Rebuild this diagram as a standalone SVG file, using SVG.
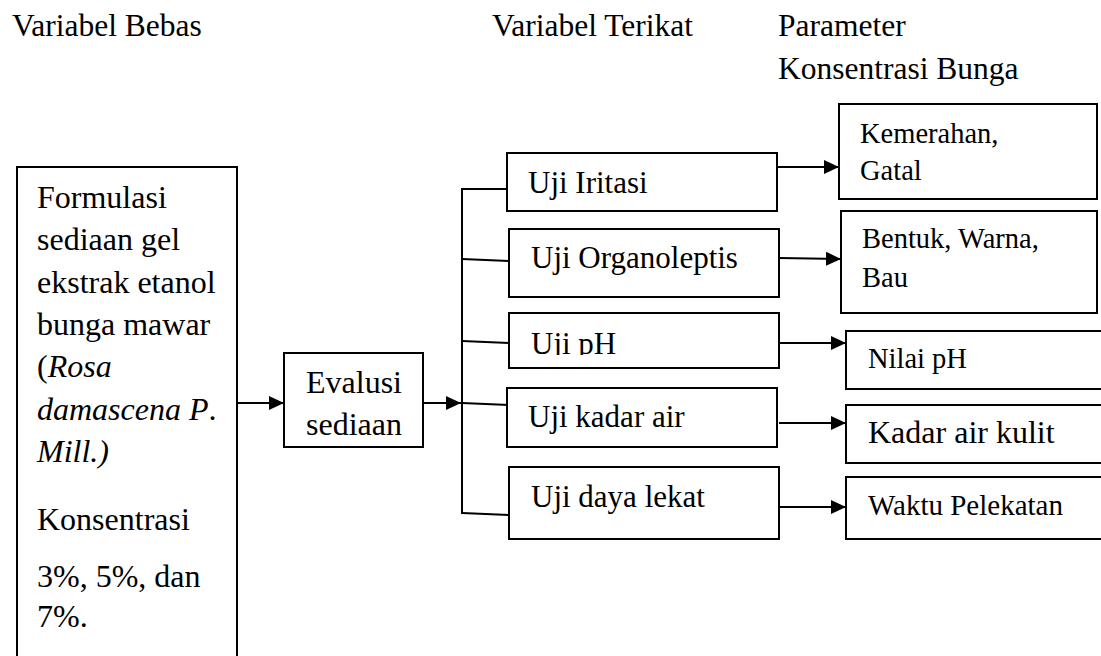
<svg xmlns="http://www.w3.org/2000/svg" width="1101" height="656" viewBox="0 0 1101 656">
<style>
text{font-family:"Liberation Serif","Times New Roman",serif;fill:#000}
.h{font-size:31.5px}
.m{font-size:32px}
.u{font-size:31px}
.s{font-size:28.5px}
.box{fill:#fff;stroke:#000;stroke-width:2}
.c{fill:none;stroke:#000;stroke-width:2}
</style>
<defs>
<marker id="ah" markerUnits="userSpaceOnUse" markerWidth="16" markerHeight="16" refX="15" refY="8" orient="auto">
<path d="M0,1 L15,8 L0,15 Z" fill="#000"/>
</marker>
<clipPath id="phclip"><rect x="509" y="313" width="270" height="42"/></clipPath>
</defs>
<rect width="1101" height="656" fill="#fff"/>
<g id="headers">
<text class="h" x="12" y="36">Variabel Bebas</text>
<text class="h" x="492" y="36">Variabel Terikat</text>
<text class="h" x="778" y="36">Parameter</text>
<text class="h" x="778" y="79">Konsentrasi Bunga</text>
</g>
<g id="connectors">
<line class="c" x1="237" y1="403" x2="284" y2="403" marker-end="url(#ah)"/>
<line class="c" x1="423" y1="403" x2="461" y2="403" marker-end="url(#ah)"/>
<line class="c" x1="462" y1="188" x2="462" y2="514"/>
<line class="c" x1="461" y1="189" x2="507" y2="189"/>
<line class="c" x1="462" y1="259" x2="509" y2="261"/>
<line class="c" x1="462" y1="341" x2="509" y2="343"/>
<line class="c" x1="462" y1="403" x2="509" y2="405"/>
<line class="c" x1="462" y1="513" x2="509" y2="515"/>
<line class="c" x1="777" y1="167" x2="839" y2="167" marker-end="url(#ah)"/>
<line class="c" x1="779" y1="258" x2="841" y2="259" marker-end="url(#ah)"/>
<line class="c" x1="779" y1="343" x2="846" y2="343" marker-end="url(#ah)"/>
<line class="c" x1="779" y1="423" x2="846" y2="423" marker-end="url(#ah)"/>
<line class="c" x1="779" y1="507" x2="846" y2="507" marker-end="url(#ah)"/>
</g>
<g id="formulasi">
<rect class="box" x="17" y="167" width="220" height="500"/>
<text class="m" x="37" y="208">Formulasi</text>
<text class="m" x="37" y="250">sediaan gel</text>
<text class="m" x="37" y="293">ekstrak etanol</text>
<text class="m" x="37" y="335">bunga mawar</text>
<text class="m" x="37" y="377">(<tspan font-style="italic">Rosa</tspan></text>
<text class="m" x="37" y="420" font-style="italic">damascena P<tspan font-style="normal">.</tspan></text>
<text class="m" x="37" y="462" font-style="italic">Mill.)</text>
<text class="m" x="37" y="530">Konsentrasi</text>
<text class="m" x="37" y="587">3%, 5%, dan</text>
<text class="m" x="37" y="627">7%.</text>
</g>
<g id="evalusi">
<rect class="box" x="284" y="353" width="139" height="94"/>
<text class="m" x="354" y="393" text-anchor="middle">Evalusi</text>
<text class="m" x="354" y="435" text-anchor="middle">sediaan</text>
</g>
<g id="uji-iritasi">
<rect class="box" x="507" y="153" width="270" height="58"/>
<text class="u" x="528" y="193">Uji Iritasi</text>
</g>
<g id="uji-organoleptis">
<rect class="box" x="509" y="229" width="270" height="68"/>
<text class="u" x="531" y="268">Uji Organoleptis</text>
</g>
<g id="uji-ph">
<rect class="box" x="509" y="313" width="270" height="55"/>
<text class="u" x="531" y="354" clip-path="url(#phclip)">Uji pH</text>
</g>
<g id="uji-kadar-air">
<rect class="box" x="507" y="388" width="270" height="59"/>
<text class="u" x="528" y="427">Uji kadar air</text>
</g>
<g id="uji-daya-lekat">
<rect class="box" x="509" y="467" width="270" height="72"/>
<text class="u" x="531" y="507">Uji daya lekat</text>
</g>
<g id="kemerahan">
<rect class="box" x="839" y="104" width="258" height="95"/>
<text class="s" x="860" y="143">Kemerahan,</text>
<text class="s" x="860" y="180">Gatal</text>
</g>
<g id="bentuk">
<rect class="box" x="841" y="211" width="256" height="102"/>
<text class="s" x="862" y="248">Bentuk, Warna,</text>
<text class="s" x="862" y="287">Bau</text>
</g>
<g id="nilai-ph">
<rect class="box" x="846" y="331" width="265" height="58"/>
<text class="s" x="868" y="368">Nilai pH</text>
</g>
<g id="kadar-air-kulit">
<rect class="box" x="846" y="405" width="265" height="58"/>
<text class="m" x="868" y="443">Kadar air kulit</text>
</g>
<g id="waktu-pelekatan">
<rect class="box" x="846" y="477" width="265" height="62"/>
<text class="s" x="868" y="515" style="font-size:29px">Waktu Pelekatan</text>
</g>
</svg>
